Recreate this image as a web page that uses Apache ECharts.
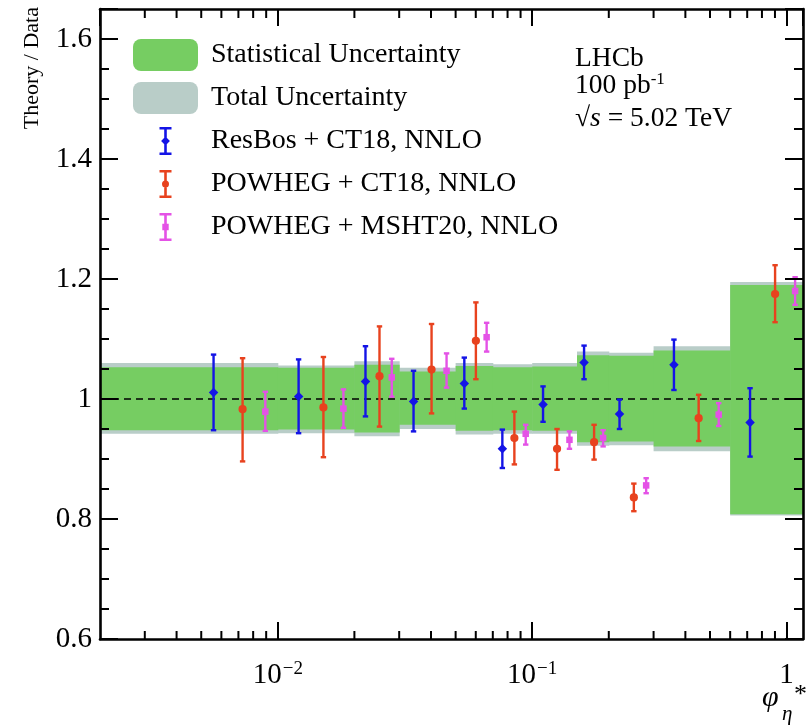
<!DOCTYPE html>
<html>
<head>
<meta charset="utf-8">
<title>Theory / Data vs phi*</title>
<script src="https://cdn.jsdelivr.net/npm/echarts@6/dist/echarts.min.js"></script>
<style>
html, body { margin: 0; padding: 0; background: #fff; }
#main { width: 809px; height: 725px; }
</style>
</head>
<body>
<div id="main"></div>
<script>
// phi*_eta bins and the data uncertainty bands around 1
var binEdges = [0.002, 0.01, 0.02, 0.03, 0.05, 0.07, 0.1, 0.15, 0.2, 0.3, 0.6, 1.2];
var totalLo = [0.942, 0.943, 0.938, 0.950, 0.941, 0.942, 0.942, 0.922, 0.923, 0.913, 0.806];
var totalHi = [1.060, 1.056, 1.063, 1.052, 1.060, 1.058, 1.060, 1.079, 1.077, 1.088, 1.195];
var statLo = [0.948, 0.949, 0.944, 0.957, 0.947, 0.948, 0.947, 0.928, 0.929, 0.921, 0.808];
var statHi = [1.053, 1.052, 1.057, 1.046, 1.055, 1.053, 1.054, 1.073, 1.072, 1.081, 1.190];

// ResBos + CT18
var resbosX = [0.00559, 0.01207, 0.02211, 0.03416, 0.05409, 0.07632, 0.1103, 0.1599, 0.2204, 0.3607, 0.7183];
var resbosY = [1.011, 1.004, 1.029, 0.996, 1.026, 0.917, 0.991, 1.061, 0.975, 1.057, 0.961];
var resbosLo = [0.948, 0.943, 0.971, 0.946, 0.984, 0.885, 0.962, 1.033, 0.950, 1.015, 0.904];
var resbosHi = [1.074, 1.066, 1.088, 1.047, 1.069, 0.949, 1.021, 1.089, 0.999, 1.099, 1.018];

// POWHEG + CT18
var powCtX = [0.00727, 0.01511, 0.02510, 0.04021, 0.06006, 0.08509, 0.1252, 0.1751, 0.2509, 0.4511, 0.9010];
var powCtY = [0.983, 0.986, 1.038, 1.049, 1.097, 0.935, 0.917, 0.928, 0.836, 0.968, 1.175];
var powCtLo = [0.896, 0.903, 0.954, 0.976, 1.033, 0.891, 0.882, 0.899, 0.813, 0.930, 1.128];
var powCtHi = [1.068, 1.070, 1.121, 1.125, 1.161, 0.979, 0.950, 0.957, 0.859, 1.007, 1.223];

// POWHEG + MSHT20
var powMsX = [0.00893, 0.01811, 0.02805, 0.04606, 0.06620, 0.09428, 0.1401, 0.1900, 0.2805, 0.5409, 1.080];
var powMsY = [0.979, 0.984, 1.036, 1.047, 1.103, 0.942, 0.932, 0.935, 0.856, 0.974, 1.180];
var powMsLo = [0.947, 0.952, 1.004, 1.019, 1.079, 0.924, 0.917, 0.921, 0.843, 0.955, 1.157];
var powMsHi = [1.012, 1.016, 1.067, 1.076, 1.127, 0.957, 0.946, 0.948, 0.868, 0.993, 1.203];

// log axis minor ticks (2..9 in each decade)
var minorTicksX = [0.003, 0.004, 0.005, 0.006, 0.007, 0.008, 0.009,
    0.02, 0.03, 0.04, 0.05, 0.06, 0.07, 0.08, 0.09,
    0.2, 0.3, 0.4, 0.5, 0.6, 0.7, 0.8, 0.9];

var xMin = 0.002, xMax = 1.16;
var yMin = 0.6, yMax = 1.65;

var serif = 'Liberation Serif';
var cGreen = '#76cd62';
var cGrey = '#b9cdc8';
var cBlue = '#1414e6';
var cRed = '#e8421e';
var cMagenta = '#e452e6';

// legend icons: error bar with marker
var barPath = 'M0 -2M12 30M0 0H12V2.6H7.3V25.4H12V28H0V25.4H4.7V2.6H0Z';
var iconBlue = 'path://' + barPath + 'M6 9.6L10.4 14L6 18.4L1.6 14Z';
var iconRed = 'path://' + barPath + 'M9.5 14A3.5 3.5 0 1 1 2.5 14A3.5 3.5 0 1 1 9.5 14Z';
var iconMagenta = 'path://' + barPath + 'M2.8 10.8H9.2V17.2H2.8Z';

function bandData(lo, hi) {
    var out = [];
    for (var i = 0; i < binEdges.length - 1; i++) {
        out.push([binEdges[i], binEdges[i + 1], lo[i], hi[i]]);
    }
    return out;
}

function pointData(xs, ys, lo, hi) {
    return xs.map(function (x, i) { return [x, ys[i], lo[i], hi[i]]; });
}

function renderBand(params, api) {
    var p0 = api.coord([api.value(0), api.value(3)]);
    var p1 = api.coord([api.value(1), api.value(2)]);
    var rect = echarts.graphic.clipRectByRect({
        x: p0[0], y: p0[1], width: p1[0] - p0[0] + 0.5, height: p1[1] - p0[1]
    }, {
        x: params.coordSys.x, y: params.coordSys.y,
        width: params.coordSys.width, height: params.coordSys.height
    });
    return rect && { type: 'rect', shape: rect, style: { fill: api.visual('color') } };
}

function errorBarRenderer(marker, size) {
    return function (params, api) {
        var c = api.coord([api.value(0), api.value(1)]);
        var lo = api.coord([api.value(0), api.value(2)]);
        var hi = api.coord([api.value(0), api.value(3)]);
        var color = api.visual('color');
        var ls = { stroke: color, lineWidth: 2.4 };
        var cap = 2.7;
        var m;
        if (marker === 'circle') {
            m = { type: 'circle', shape: { cx: c[0], cy: c[1], r: size / 2 }, style: { fill: color } };
        } else if (marker === 'rect') {
            m = { type: 'rect', shape: { x: c[0] - size / 2, y: c[1] - size / 2, width: size, height: size }, style: { fill: color } };
        } else {
            var h = size / 2;
            m = { type: 'polygon', shape: { points: [[c[0], c[1] - h], [c[0] + h, c[1]], [c[0], c[1] + h], [c[0] - h, c[1]]] }, style: { fill: color } };
        }
        return {
            type: 'group',
            children: [
                { type: 'line', shape: { x1: c[0], y1: lo[1], x2: c[0], y2: hi[1] }, style: ls },
                { type: 'line', shape: { x1: c[0] - cap, y1: lo[1], x2: c[0] + cap, y2: lo[1] }, style: ls },
                { type: 'line', shape: { x1: c[0] - cap, y1: hi[1], x2: c[0] + cap, y2: hi[1] }, style: ls },
                m
            ]
        };
    };
}

// minor ticks on top and bottom of the log axis
function renderMinorTick(params, api) {
    var x = api.coord([api.value(0), yMin])[0];
    var cs = params.coordSys;
    var ls = { stroke: '#000', lineWidth: 2 };
    return {
        type: 'group',
        children: [
            { type: 'line', shape: { x1: x, y1: cs.y + cs.height, x2: x, y2: cs.y + cs.height - 8 }, style: ls },
            { type: 'line', shape: { x1: x, y1: cs.y, x2: x, y2: cs.y + 9 }, style: ls }
        ]
    };
}

function logLabel(value) {
    var e = Math.round(Math.log10(value));
    if (e === 0) return '{b|1}';
    return '{b|10}{s|\u2212' + (-e) + '}';
}

var axisLineStyle = { color: '#000', width: 2.6 };
var tickStyle = { color: '#000', width: 2 };

function xAxisCfg(pos, showLabel) {
    return {
        type: 'log', logBase: 10, min: xMin, max: xMax, position: pos, z: 10,
        axisLine: { show: true, onZero: false, lineStyle: axisLineStyle },
        axisTick: { show: true, inside: true, length: 17, lineStyle: tickStyle },
        minorTick: { show: false },
        splitLine: { show: false },
        axisLabel: {
            show: showLabel, margin: 17, showMinLabel: false, showMaxLabel: false,
            formatter: logLabel,
            rich: {
                b: { fontFamily: serif, fontSize: 29, color: '#000', verticalAlign: 'bottom', lineHeight: 34 },
                s: { fontFamily: serif, fontSize: 19, color: '#000', verticalAlign: 'bottom', lineHeight: 34, padding: [0, 0, 11, 1] }
            }
        }
    };
}

function yAxisCfg(pos, showLabel) {
    return {
        type: 'value', min: yMin, max: yMax, interval: 0.2, position: pos, z: 10,
        axisLine: { show: true, onZero: false, lineStyle: axisLineStyle },
        axisTick: { show: true, inside: true, length: 18, lineStyle: tickStyle },
        minorTick: { show: true, splitNumber: 4, length: 9, lineStyle: tickStyle },
        splitLine: { show: false },
        minorSplitLine: { show: false },
        axisLabel: {
            show: showLabel, margin: 8, showMaxLabel: false,
            fontFamily: serif, fontSize: 29, color: '#000',
            formatter: function (v) { return String(+v.toFixed(2)); }
        }
    };
}

var chart = echarts.init(document.getElementById('main'));

var option = {
    animation: false,
    backgroundColor: '#fff',
    grid: { left: 100, right: 6, top: 9, bottom: 86 },
    xAxis: [xAxisCfg('bottom', true), xAxisCfg('top', false)],
    yAxis: [yAxisCfg('left', true), yAxisCfg('right', false)],
    legend: {
        orient: 'vertical', left: 133, top: 39, padding: 0,
        itemWidth: 65, itemHeight: 32, itemGap: 11,
        selectedMode: false,
        textStyle: { fontFamily: serif, fontSize: 28, color: '#000', padding: [5, 0, 0, 8] },
        data: [
            { name: 'Statistical Uncertainty', icon: 'roundRect' },
            { name: 'Total Uncertainty', icon: 'roundRect' },
            { name: 'ResBos + CT18, NNLO', icon: iconBlue },
            { name: 'POWHEG + CT18, NNLO', icon: iconRed },
            { name: 'POWHEG + MSHT20, NNLO', icon: iconMagenta }
        ]
    },
    graphic: [
        {
            type: 'text', x: 32, y: 7, rotation: Math.PI / 2,
            style: { text: 'Theory / Data', fontFamily: serif, fontSize: 22, fill: '#000', align: 'right', verticalAlign: 'middle' }
        },
        { type: 'text', x: 575, y: 59, style: { text: 'LHCb', fontFamily: serif, fontSize: 27.5, fill: '#000', verticalAlign: 'middle' } },
        {
            type: 'text', x: 575, y: 84,
            style: {
                text: '{n|100 pb}{s|-1}', verticalAlign: 'middle',
                rich: {
                    n: { fontFamily: serif, fontSize: 27.5, fill: '#000', verticalAlign: 'bottom', lineHeight: 32 },
                    s: { fontFamily: serif, fontSize: 17, fill: '#000', verticalAlign: 'bottom', lineHeight: 32, padding: [0, 0, 12, 0] }
                }
            }
        },
        {
            type: 'text', x: 575, y: 119,
            style: {
                text: '{n|\u221A}{i|s}{n| = 5.02 TeV}', verticalAlign: 'middle',
                rich: {
                    n: { fontFamily: serif, fontSize: 27.5, fill: '#000' },
                    i: { fontFamily: serif, fontSize: 27.5, fontStyle: 'italic', fill: '#000' }
                }
            }
        },
        { type: 'text', x: 762, y: 698, style: { text: '\u03C6', fontFamily: serif, fontStyle: 'italic', fontSize: 30, fill: '#000', verticalAlign: 'middle' } },
        { type: 'text', x: 782, y: 714, style: { text: '\u03B7', fontFamily: serif, fontStyle: 'italic', fontSize: 21, fill: '#000', verticalAlign: 'middle' } },
        { type: 'text', x: 794, y: 695, style: { text: '*', fontFamily: serif, fontSize: 26, fill: '#000', verticalAlign: 'middle' } }
    ],
    series: [
        {
            name: 'Total Uncertainty', type: 'custom', z: 1, silent: true,
            itemStyle: { color: cGrey },
            renderItem: renderBand,
            encode: { x: [0, 1], y: [2, 3] },
            data: bandData(totalLo, totalHi)
        },
        {
            name: 'Statistical Uncertainty', type: 'custom', z: 2, silent: true,
            itemStyle: { color: cGreen },
            renderItem: renderBand,
            encode: { x: [0, 1], y: [2, 3] },
            data: bandData(statLo, statHi),
            markLine: {
                silent: true, symbol: 'none', z: 3,
                label: { show: false },
                lineStyle: { color: '#000', width: 1.5, type: [7, 5] },
                data: [{ yAxis: 1 }]
            }
        },
        {
            name: 'ResBos + CT18, NNLO', type: 'custom', z: 5,
            itemStyle: { color: cBlue },
            renderItem: errorBarRenderer('diamond', 9.5),
            encode: { x: 0, y: [1, 2, 3] },
            data: pointData(resbosX, resbosY, resbosLo, resbosHi)
        },
        {
            name: 'POWHEG + CT18, NNLO', type: 'custom', z: 5,
            itemStyle: { color: cRed },
            renderItem: errorBarRenderer('circle', 8.2),
            encode: { x: 0, y: [1, 2, 3] },
            data: pointData(powCtX, powCtY, powCtLo, powCtHi)
        },
        {
            name: 'POWHEG + MSHT20, NNLO', type: 'custom', z: 5,
            itemStyle: { color: cMagenta },
            renderItem: errorBarRenderer('rect', 6.5),
            encode: { x: 0, y: [1, 2, 3] },
            data: pointData(powMsX, powMsY, powMsLo, powMsHi)
        },
        {
            name: 'minor ticks', type: 'custom', z: 11, silent: true,
            renderItem: renderMinorTick,
            encode: { x: 0 },
            data: minorTicksX.map(function (v) { return [v]; })
        }
    ]
};

chart.setOption(option);
</script>
</body>
</html>
